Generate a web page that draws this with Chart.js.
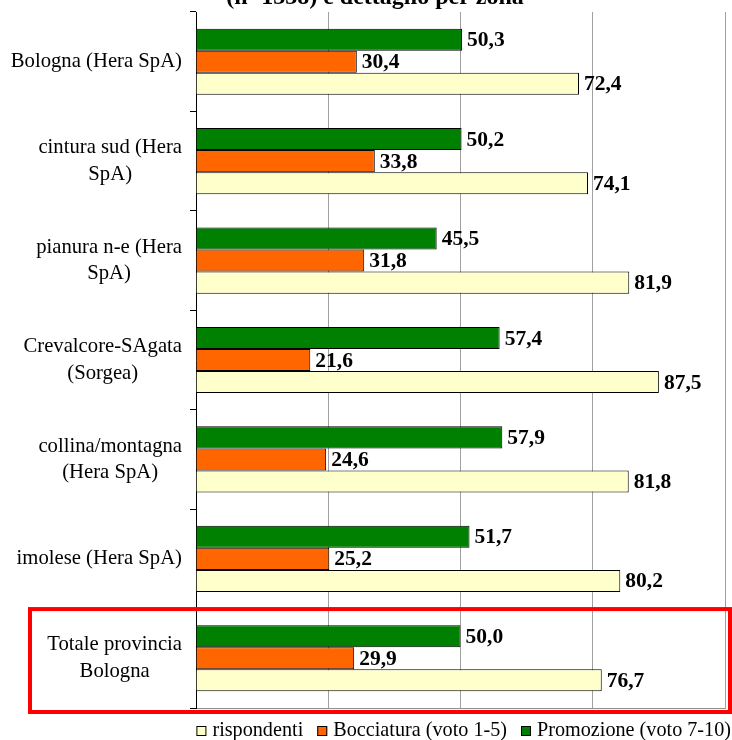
<!DOCTYPE html>
<html>
<head>
<meta charset="utf-8">
<script src="https://cdn.jsdelivr.net/npm/chart.js@4/dist/chart.umd.min.js"></script>
<style>
  html, body { margin: 0; padding: 0; background: #fff; }
  #wrap { position: relative; width: 732px; height: 740px; }
</style>
</head>
<body>
<div id="wrap"><canvas id="chart"></canvas></div>
<script>
var titleText = "(n=1338) e dettaglio per zona"
var categories = [
    "Bologna (Hera SpA)",
    ["cintura sud (Hera", "SpA)"],
    ["pianura n-e (Hera", "SpA)"],
    ["Crevalcore-SAgata", "(Sorgea)"],
    ["collina/montagna", "(Hera SpA)"],
    "imolese (Hera SpA)",
    ["Totale provincia", "Bologna"]
]
var promozione = [50.3, 50.2, 45.5, 57.4, 57.9, 51.7, 50.0]
var bocciatura = [30.4, 33.8, 31.8, 21.6, 24.6, 25.2, 29.9]
var rispondenti = [72.4, 74.1, 81.9, 87.5, 81.8, 80.2, 76.7]
var seriesNames = ["Promozione (voto 7-10)", "Bocciatura (voto 1-5)", "rispondenti"]
var colors = ['#008000', '#FF6600', '#FFFFCC']

var serif = "'Liberation Serif', 'DejaVu Serif', serif"

// value labels at the end of each bar
var valueLabels = {
    id: 'valueLabels',
    afterDatasetsDraw: function(chart){
        var ctx = chart.ctx
        ctx.save()
        ctx.font = "bold 21.5px " + serif
        ctx.fillStyle = '#000'
        ctx.textAlign = 'left'
        ctx.textBaseline = 'middle'
        chart.data.datasets.forEach(function(ds, i){
            chart.getDatasetMeta(i).data.forEach(function(bar, j){
                ctx.fillText(ds.data[j].toFixed(1).replace('.', ','), bar.x + 5, bar.y + 1)
            })
        })
        ctx.restore()
    }
}

// category labels: block right-aligned, lines centred inside the block
var categoryLabels = {
    id: 'categoryLabels',
    afterDraw: function(chart){
        var ctx = chart.ctx
        var y = chart.scales.y
        var lh = 26.5
        ctx.save()
        ctx.font = "20.7px " + serif
        ctx.fillStyle = '#000'
        ctx.textAlign = 'center'
        ctx.textBaseline = 'middle'
        categories.forEach(function(c, i){
            var lines = Array.isArray(c) ? c : [c]
            var w = Math.max.apply(null, lines.map(function(l){ return ctx.measureText(l).width }))
            var cx = 182 - w / 2
            var cy = y.getPixelForValue(i) - (lines.length - 1) * lh / 2
            lines.forEach(function(l, k){ ctx.fillText(l, cx, cy + k * lh) })
        })
        ctx.restore()
    }
}

// legend drawn by hand: rispondenti, Bocciatura, Promozione
var legendRow = {
    id: 'legendRow',
    afterDraw: function(chart){
        var ctx = chart.ctx
        ctx.save()
        ctx.font = "20.2px " + serif
        ctx.textBaseline = 'middle'
        ctx.textAlign = 'left'
        var items = chart.data.datasets.slice().reverse()
        var box = 10, gapText = 6, gapItem = 14
        var total = 0
        items.forEach(function(ds, i){
            total += box + gapText + ctx.measureText(ds.label).width + (i < items.length - 1 ? gapItem : 0)
        })
        var x = 731 - total
        var yc = 731
        items.forEach(function(ds){
            ctx.fillStyle = ds.backgroundColor
            ctx.fillRect(x, yc - 5, box, box)
            ctx.strokeStyle = '#000'
            ctx.lineWidth = 1
            ctx.strokeRect(x + 0.5, yc - 4.5, box - 1, box - 1)
            ctx.fillStyle = '#000'
            ctx.fillText(ds.label, x + box + gapText, yc)
            x += box + gapText + ctx.measureText(ds.label).width + gapItem
        })
        ctx.restore()
    }
}

// cut-off title + red frame around the total row
var extras = {
    id: 'extras',
    afterDraw: function(chart){
        var ctx = chart.ctx
        var y = chart.scales.y
        ctx.save()
        ctx.font = "bold 24px " + serif
        ctx.fillStyle = '#000'
        ctx.textAlign = 'center'
        ctx.textBaseline = 'alphabetic'
        ctx.fillText(titleText, 375, 4)

        var last = categories.length - 1
        var half = (y.getPixelForValue(1) - y.getPixelForValue(0)) / 2
        var top = y.getPixelForValue(last) - half + 0.5
        var bottom = y.getPixelForValue(last) + half + 4
        ctx.strokeStyle = '#FF0000'
        ctx.lineWidth = 4
        ctx.strokeRect(30, top, 700, bottom - top)
        ctx.restore()
    }
}

var ctx = document.getElementById('chart')
var myChart = new Chart(ctx, {
    type: 'bar',
    data: {
        labels: categories,
        datasets: [
            { label: seriesNames[0], data: promozione, backgroundColor: colors[0], borderColor: '#000', borderWidth: 1 },
            { label: seriesNames[1], data: bocciatura, backgroundColor: colors[1], borderColor: '#000', borderWidth: 1 },
            { label: seriesNames[2], data: rispondenti, backgroundColor: colors[2], borderColor: '#000', borderWidth: 1 }
        ]
    },
    options: {
        indexAxis: 'y',
        responsive: true,
        maintainAspectRatio: false,
        animation: false,
        datasets: {
            bar: { categoryPercentage: 0.665, barPercentage: 1 }
        },
        layout: { padding: { top: 12, right: 7, left: 0, bottom: 32 } },
        scales: {
            x: {
                min: 0,
                max: 100,
                ticks: { display: false, stepSize: 25 },
                grid: { color: '#a0a0a0', drawTicks: false },
                border: { display: true, color: '#909090' }
            },
            y: {
                ticks: { display: false },
                grid: { offset: true, drawOnChartArea: false, tickLength: 6, color: '#000' },
                border: { display: true, color: '#000' },
                afterFit: function(scale){
                    scale.width = 196
                    scale.paddingTop = 0
                    scale.paddingBottom = 0
                }
            }
        },
        plugins: {
            title: { display: false },
            tooltip: { enabled: false },
            legend: { display: false }
        }
    },
    plugins: [valueLabels, categoryLabels, legendRow, extras]
});
</script>
</body>
</html>
